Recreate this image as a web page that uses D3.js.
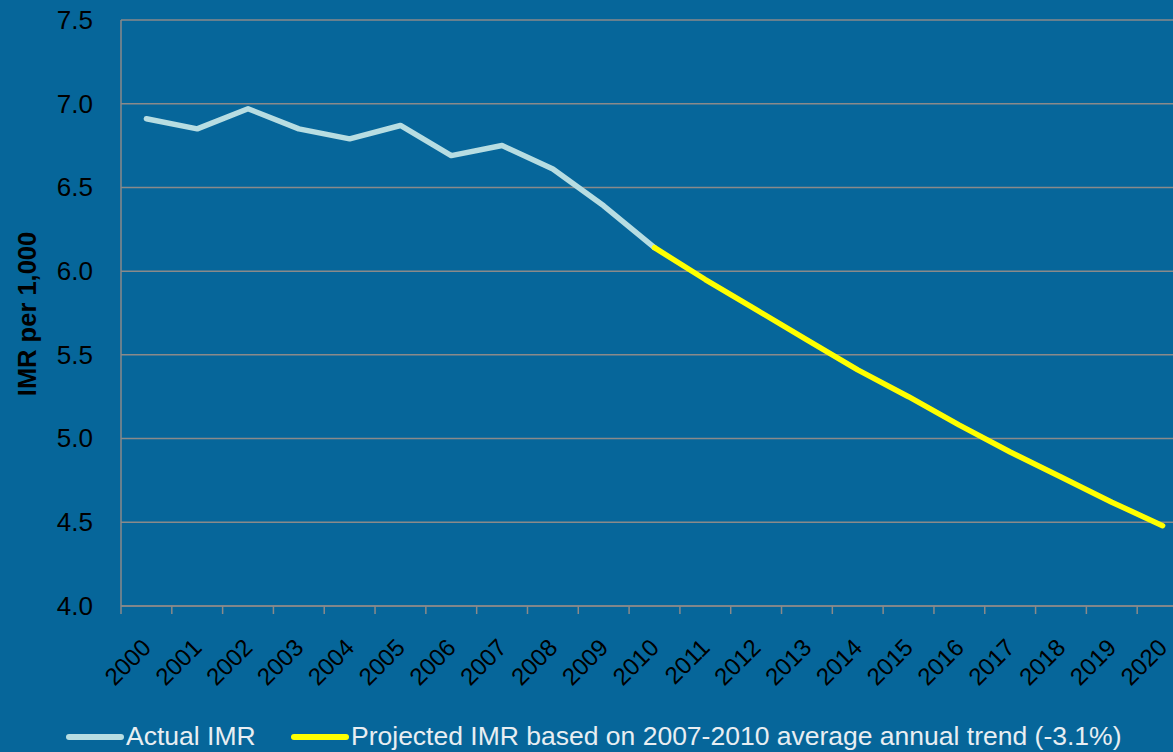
<!DOCTYPE html>
<html>
<head>
<meta charset="utf-8">
<script src="https://cdn.jsdelivr.net/npm/d3@7"></script>
<style>
  html, body { margin: 0; padding: 0; background: #06669a; }
  svg { display: block; }
  text { font-family: "Liberation Sans", Arial, sans-serif; }
</style>
</head>
<body>
<svg id="chart"></svg>
<script>
// years on the category axis
const years = d3.range(2000, 2021).map(String);
// actual IMR 2000-2010
const actualYears = ["2000","2001","2002","2003","2004","2005","2006","2007","2008","2009","2010"];
const actualValues = [6.91, 6.85, 6.97, 6.85, 6.79, 6.87, 6.69, 6.75, 6.61, 6.39, 6.14];
// projected IMR 2010-2020
const projYears = ["2010","2011","2012","2013","2014","2015","2016","2017","2018","2019","2020"];
const projValues = [6.14, 5.95, 5.77, 5.59, 5.41, 5.25, 5.08, 4.92, 4.77, 4.62, 4.48];
const yTicks = [4.0, 4.5, 5.0, 5.5, 6.0, 6.5, 7.0, 7.5];
const legendLabels = ["Actual IMR", "Projected IMR based on 2007-2010 average annual trend (-3.1%)"];

const width = 1173, height = 752;
const svg = d3.select("#chart").attr("width", width).attr("height", height);
svg.append("rect").attr("width", width).attr("height", height).attr("fill", "#06669a");

const mLeft = 121, mRight = 1188, mTop = 20, mBottom = 606;

const x = d3.scaleBand().domain(years).range([mLeft, mRight]).padding(0);
const y = d3.scaleLinear().domain([4, 7.5]).range([mBottom, mTop]);
const cx = d => x(d) + x.bandwidth() / 2;

// grid lines
svg.append("g")
  .selectAll("line")
  .data(yTicks)
  .enter()
  .append("line")
  .attr("x1", mLeft).attr("x2", mRight)
  .attr("y1", d => y(d)).attr("y2", d => y(d))
  .attr("stroke", "#8a8a8a").attr("stroke-width", 1.5);

// y axis
const yAxis = svg.append("g")
  .attr("transform", `translate(${mLeft},0)`)
  .call(d3.axisLeft(y).tickValues(yTicks).tickFormat(d3.format(".1f")).tickSize(0).tickPadding(28));
yAxis.select(".domain").remove();
yAxis.selectAll("text").attr("font-size", 26).attr("fill", "#000").attr("font-family", "Liberation Sans, Arial, sans-serif");
svg.append("line")
  .attr("x1", mLeft).attr("x2", mLeft).attr("y1", mTop).attr("y2", mBottom + 8)
  .attr("stroke", "#8a8a8a").attr("stroke-width", 1.5);

// x axis
svg.append("line")
  .attr("x1", mLeft).attr("x2", mRight).attr("y1", mBottom).attr("y2", mBottom)
  .attr("stroke", "#8a8a8a").attr("stroke-width", 1.5);
svg.append("g")
  .selectAll("line")
  .data(years.slice(1))
  .enter()
  .append("line")
  .attr("x1", d => x(d)).attr("x2", d => x(d))
  .attr("y1", mBottom).attr("y2", mBottom + 8)
  .attr("stroke", "#8a8a8a").attr("stroke-width", 1.5);

svg.append("g")
  .selectAll("text")
  .data(years)
  .enter()
  .append("text")
  .attr("transform", d => `translate(${cx(d) + 6},${mBottom + 43}) rotate(-45)`)
  .attr("text-anchor", "end")
  .attr("font-size", 24)
  .attr("fill", "#000")
  .text(d => d);

// y title
svg.append("text")
  .attr("transform", `translate(36,${(mTop + mBottom) / 2 + 1}) rotate(-90)`)
  .attr("text-anchor", "middle")
  .attr("font-size", 25.5)
  .attr("font-weight", "bold")
  .attr("fill", "#000")
  .text("IMR per 1,000");

// lines
const line = d3.line().x(d => cx(d[0])).y(d => y(d[1]));
svg.append("path")
  .datum(actualYears.map((yr, i) => [yr, actualValues[i]]))
  .attr("d", line)
  .attr("fill", "none")
  .attr("stroke", "#b7dde2")
  .attr("stroke-width", 5.5)
  .attr("stroke-linecap", "round")
  .attr("stroke-linejoin", "round");
svg.append("path")
  .datum(projYears.map((yr, i) => [yr, projValues[i]]))
  .attr("d", line)
  .attr("fill", "none")
  .attr("stroke", "#ffff00")
  .attr("stroke-width", 5.5)
  .attr("stroke-linecap", "round")
  .attr("stroke-linejoin", "round");

// legend
const legend = [
  { label: legendLabels[0], color: "#b7dde2", x: 69 },
  { label: legendLabels[1], color: "#ffff00", x: 294 }
];
const lg = svg.append("g").selectAll("g").data(legend).enter().append("g")
  .attr("transform", d => `translate(${d.x},737)`);
lg.append("line")
  .attr("x1", 0).attr("x2", 52).attr("y1", 0).attr("y2", 0)
  .attr("stroke", d => d.color).attr("stroke-width", 6).attr("stroke-linecap", "round");
lg.append("text")
  .attr("x", 57).attr("y", 8)
  .attr("font-size", 26.5)
  .attr("fill", "#e8eef2")
  .text(d => d.label);
</script>
</body>
</html>
